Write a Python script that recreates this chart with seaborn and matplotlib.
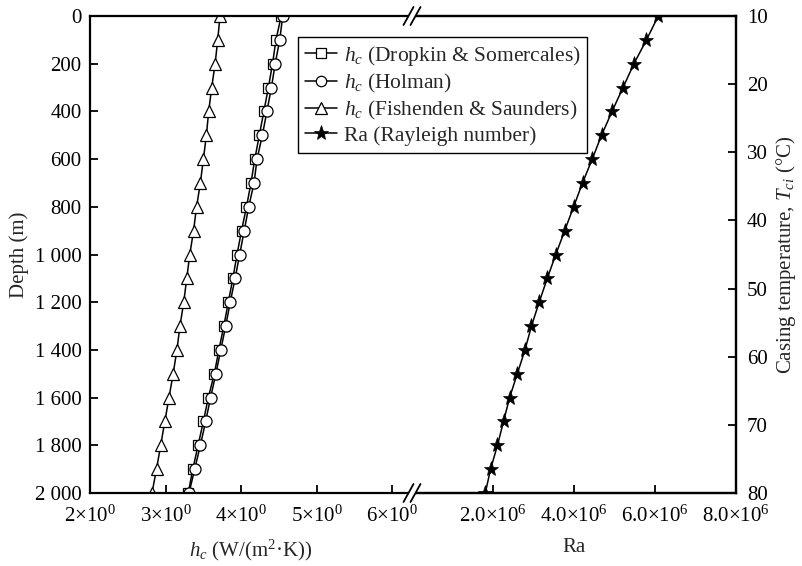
import matplotlib
matplotlib.use("Agg")
import matplotlib.pyplot as plt
from matplotlib.lines import Line2D
from matplotlib.patches import Polygon
import seaborn as sns
import pandas as pd

# ---------------- data ----------------
depth = [0, 100, 200, 300, 400, 500, 600, 700, 800, 900, 1000,
         1100, 1200, 1300, 1400, 1500, 1600, 1700, 1800, 1900, 2000]
hc_dropkin = [4.53, 4.46, 4.415, 4.36, 4.30, 4.24, 4.18, 4.13, 4.07, 4.005, 3.945,
              3.89, 3.83, 3.77, 3.705, 3.645, 3.565, 3.50, 3.43, 3.36, 3.30]
hc_holman = [4.55, 4.51, 4.45, 4.40, 4.34, 4.28, 4.21, 4.17, 4.10, 4.04, 3.98,
             3.92, 3.855, 3.795, 3.73, 3.665, 3.595, 3.53, 3.46, 3.385, 3.31]
hc_fishenden = [3.72, 3.69, 3.655, 3.61, 3.57, 3.54, 3.50, 3.46, 3.41, 3.37, 3.32,
                3.28, 3.24, 3.19, 3.15, 3.10, 3.045, 2.99, 2.935, 2.88, 2.82]
ra = [6.08e6, 5.79e6, 5.48e6, 5.21e6, 4.94e6, 4.68e6, 4.45e6, 4.21e6, 3.99e6, 3.77e6, 3.55e6,
      3.34e6, 3.14e6, 2.95e6, 2.79e6, 2.60e6, 2.41e6, 2.26e6, 2.11e6, 1.94e6, 1.81e6]

depth_ticks = [0, 200, 400, 600, 800, 1000, 1200, 1400, 1600, 1800, 2000]
depth_labels = ["0", "200", "400", "600", "800", "1 000", "1 200", "1 400", "1 600", "1 800", "2 000"]
hc_ticks = [2, 3, 4, 5, 6]
hc_labels = ["2×10$^{0}$", "3×10$^{0}$", "4×10$^{0}$", "5×10$^{0}$", "6×10$^{0}$"]
ra_ticks = [2e6, 4e6, 6e6, 8e6]
ra_labels = ["2.0×10$^{6}$", "4.0×10$^{6}$", "6.0×10$^{6}$", "8.0×10$^{6}$"]
temp_ticks = [10, 20, 30, 40, 50, 60, 70, 80]

labels = ["$h_c$ (Dropkin & Somercales)", "$h_c$ (Holman)",
          "$h_c$ (Fishenden & Saunders)", "Ra (Rayleigh number)"]

# ---------------- style ----------------
sns.set_theme(style="white")
plt.rcParams["font.family"] = ["Liberation Serif", "DejaVu Serif"]
plt.rcParams["mathtext.fontset"] = "custom"
plt.rcParams["mathtext.rm"] = "Liberation Serif"
plt.rcParams["mathtext.it"] = "Liberation Serif:italic"
plt.rcParams["mathtext.bf"] = "Liberation Serif:bold"
FS = 15
LFS = 15.5

df = pd.DataFrame({"depth": depth, "dropkin": hc_dropkin, "holman": hc_holman,
                   "fishenden": hc_fishenden, "ra": ra})

W, Hpx = 802, 566
fig = plt.figure(figsize=(W / 100, Hpx / 100), dpi=100)
x0, xb, x1 = 90, 412, 736
ytop, ybot = 16, 493
ax1 = fig.add_axes([x0 / W, 1 - ybot / Hpx, (xb - x0) / W, (ybot - ytop) / Hpx])
ax2 = fig.add_axes([xb / W, 1 - ybot / Hpx, (x1 - xb) / W, (ybot - ytop) / Hpx])
ax3 = ax2.twinx()

common = dict(color="black", linewidth=1.1, estimator=None, sort=False, legend=False)
sns.lineplot(data=df, x="dropkin", y="depth", ax=ax1, marker="s", markersize=7,
             markerfacecolor="white", markeredgecolor="black", markeredgewidth=0.9, **common)
sns.lineplot(data=df, x="holman", y="depth", ax=ax1, marker="o", markersize=8,
             markerfacecolor="white", markeredgecolor="black", markeredgewidth=0.9, **common)
sns.lineplot(data=df, x="fishenden", y="depth", ax=ax1, marker="^", markersize=9,
             markerfacecolor="white", markeredgecolor="black", markeredgewidth=0.9, **common)
sns.lineplot(data=df, x="ra", y="depth", ax=ax2, marker="*", markersize=11,
             markerfacecolor="black", markeredgecolor="black", markeredgewidth=0.5, **common)

for a in (ax1, ax2, ax3):
    a.set_facecolor("none")
    for s in a.spines.values():
        s.set_linewidth(1.6)
        s.set_color("black")
    a.tick_params(direction="in", length=6, width=1.3, colors="black", labelsize=FS, pad=6)

# left axes
ax1.set_xlim(2, 6.26)
ax1.set_ylim(2000, 0)
ax1.set_xticks(hc_ticks, hc_labels)
ax1.set_yticks(depth_ticks, depth_labels)
ax1.spines["right"].set_visible(False)
ax1.tick_params(axis="x", bottom=True, top=False, pad=9)
ax1.tick_params(axis="y", left=True, right=False)
ax1.set_xlabel("$h_c$ (W/(m$^2$·K))", fontsize=FS, labelpad=8)
ax1.set_ylabel("Depth (m)", fontsize=FS, labelpad=4)

# right axes
ax2.set_xlim(0, 8e6)
ax2.set_ylim(2000, 0)
ax2.set_xticks(ra_ticks, ra_labels)
ax2.set_yticks([])
ax2.set_ylabel("")
ax2.spines["left"].set_visible(False)
ax2.tick_params(axis="x", bottom=True, top=False, pad=9)
ax2.set_xlabel("Ra", fontsize=FS, labelpad=8)

ax3.set_ylim(80, 10)
ax3.set_yticks(temp_ticks)
ax3.spines["left"].set_visible(False)
ax3.tick_params(axis="y", right=True, left=False, pad=8)
ax3.set_ylabel("Casing temperature, $T_{ci}$ (°C)", fontsize=FS, labelpad=4)

# legend
handles = [
    Line2D([], [], color="black", lw=1.1, marker="s", ms=7, mfc="white", mec="black", mew=0.9),
    Line2D([], [], color="black", lw=1.1, marker="o", ms=7.5, mfc="white", mec="black", mew=0.9),
    Line2D([], [], color="black", lw=1.1, marker="^", ms=8, mfc="white", mec="black", mew=0.9),
    Line2D([], [], color="black", lw=1.1, marker="*", ms=11, mfc="black", mec="black", mew=0.5),
]
leg = fig.legend(handles, labels, loc="upper left",
                 bbox_to_anchor=(298 / W, 1 - 37 / Hpx), fontsize=LFS,
                 frameon=True, fancybox=False, edgecolor="black", framealpha=1,
                 handlelength=1.5, handletextpad=0.3, labelspacing=0.18,
                 borderpad=0.32, borderaxespad=0)
leg.get_frame().set_linewidth(1.0)


# axis break marks
def brk(yc):
    def P(x, y):
        return (x / W, 1 - y / Hpx)
    dx, dy = 5, 9
    gap = 7
    xa, xc = xb - gap / 2, xb + gap / 2
    poly = Polygon([P(xa - dx, yc + dy - 3), P(xc - dx, yc + dy - 3),
                    P(xc + dx, yc - dy + 3), P(xa + dx, yc - dy + 3)],
                   closed=True, transform=fig.transFigure, facecolor="white",
                   edgecolor="none", zorder=10)
    fig.add_artist(poly)
    for xm in (xa, xc):
        fig.add_artist(Line2D([P(xm - dx, yc + dy)[0], P(xm + dx, yc - dy)[0]],
                              [P(xm - dx, yc + dy)[1], P(xm + dx, yc - dy)[1]],
                              transform=fig.transFigure, color="black", lw=1.3, zorder=11))

brk(ytop)
brk(ybot)

fig.savefig("out.png", dpi=100, facecolor="white")
